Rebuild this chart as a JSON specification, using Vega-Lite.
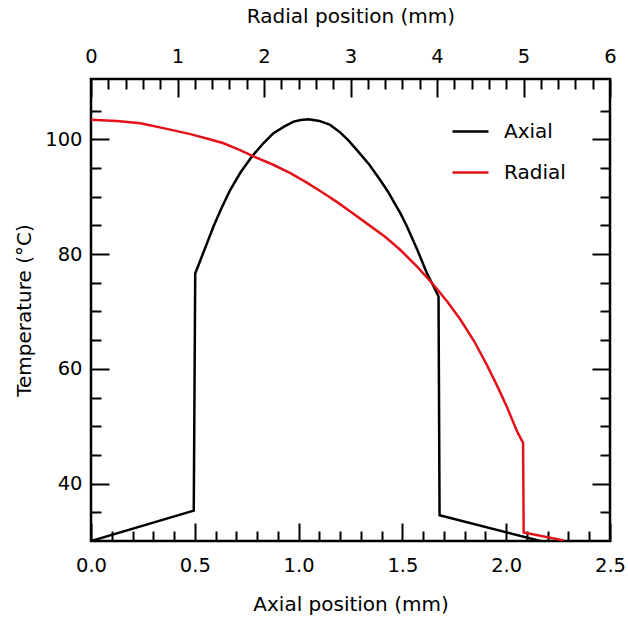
{
  "$schema": "https://vega.github.io/schema/vega-lite/v6.json",
  "width": 519,
  "height": 462,
  "autosize": {"type": "none"},
  "padding": {"left": 91, "top": 79, "right": 18, "bottom": 78},
  "background": "white",
  "config": {
    "view": {"stroke": "black", "strokeWidth": 2.5},
    "font": "DejaVu Sans",
    "axis": {
      "domain": false,
      "grid": false,
      "tickColor": "black",
      "tickWidth": 2,
      "labelFont": "DejaVu Sans",
      "labelFontSize": 19.5,
      "labelColor": "black",
      "labelFlush": false,
      "labelOverlap": false,
      "titleFont": "DejaVu Sans",
      "titleFontSize": 20,
      "titleFontWeight": "normal",
      "titleColor": "black"
    },
    "legend": {
      "labelFont": "DejaVu Sans",
      "labelFontSize": 20,
      "labelColor": "black"
    }
  },
  "datasets": {
    "axial": [
      {"pos": 0, "T": 30, "series": "Axial"},
      {"pos": 0.495, "T": 35.3, "series": "Axial"},
      {"pos": 0.502, "T": 76.6, "series": "Axial"},
      {"pos": 0.59, "T": 84.8, "series": "Axial"},
      {"pos": 0.63, "T": 88.1, "series": "Axial"},
      {"pos": 0.671, "T": 91.2, "series": "Axial"},
      {"pos": 0.72, "T": 94.2, "series": "Axial"},
      {"pos": 0.775, "T": 97.0, "series": "Axial"},
      {"pos": 0.83, "T": 99.3, "series": "Axial"},
      {"pos": 0.879, "T": 101.05, "series": "Axial"},
      {"pos": 0.93, "T": 102.2, "series": "Axial"},
      {"pos": 0.976, "T": 103.07, "series": "Axial"},
      {"pos": 1.01, "T": 103.35, "series": "Axial"},
      {"pos": 1.048, "T": 103.5, "series": "Axial"},
      {"pos": 1.1, "T": 103.2, "series": "Axial"},
      {"pos": 1.152, "T": 102.5, "series": "Axial"},
      {"pos": 1.2, "T": 101.2, "series": "Axial"},
      {"pos": 1.24, "T": 99.8, "series": "Axial"},
      {"pos": 1.281, "T": 98.1, "series": "Axial"},
      {"pos": 1.34, "T": 95.6, "series": "Axial"},
      {"pos": 1.393, "T": 92.9, "series": "Axial"},
      {"pos": 1.43, "T": 90.9, "series": "Axial"},
      {"pos": 1.46, "T": 89.0, "series": "Axial"},
      {"pos": 1.492, "T": 87.0, "series": "Axial"},
      {"pos": 1.522, "T": 84.8, "series": "Axial"},
      {"pos": 1.57, "T": 80.9, "series": "Axial"},
      {"pos": 1.618, "T": 76.65, "series": "Axial"},
      {"pos": 1.65, "T": 74.4, "series": "Axial"},
      {"pos": 1.674, "T": 72.6, "series": "Axial"},
      {"pos": 1.679, "T": 34.5, "series": "Axial"},
      {"pos": 2.164, "T": 30, "series": "Axial"}
    ],
    "radial": [
      {"pos": 0, "T": 103.4, "series": "Radial"},
      {"pos": 0.3, "T": 103.2, "series": "Radial"},
      {"pos": 0.57, "T": 102.8, "series": "Radial"},
      {"pos": 0.85, "T": 101.9, "series": "Radial"},
      {"pos": 1.148, "T": 100.9, "series": "Radial"},
      {"pos": 1.35, "T": 100.1, "series": "Radial"},
      {"pos": 1.533, "T": 99.3, "series": "Radial"},
      {"pos": 1.71, "T": 98.2, "series": "Radial"},
      {"pos": 1.88, "T": 97.0, "series": "Radial"},
      {"pos": 2.1, "T": 95.6, "series": "Radial"},
      {"pos": 2.305, "T": 94.1, "series": "Radial"},
      {"pos": 2.5, "T": 92.4, "series": "Radial"},
      {"pos": 2.69, "T": 90.6, "series": "Radial"},
      {"pos": 2.85, "T": 89.0, "series": "Radial"},
      {"pos": 2.998, "T": 87.4, "series": "Radial"},
      {"pos": 3.191, "T": 85.3, "series": "Radial"},
      {"pos": 3.4, "T": 83.0, "series": "Radial"},
      {"pos": 3.577, "T": 80.7, "series": "Radial"},
      {"pos": 3.77, "T": 77.8, "series": "Radial"},
      {"pos": 3.962, "T": 74.6, "series": "Radial"},
      {"pos": 4.12, "T": 71.7, "series": "Radial"},
      {"pos": 4.27, "T": 68.6, "series": "Radial"},
      {"pos": 4.43, "T": 64.8, "series": "Radial"},
      {"pos": 4.579, "T": 60.6, "series": "Radial"},
      {"pos": 4.7, "T": 56.9, "series": "Radial"},
      {"pos": 4.81, "T": 53.3, "series": "Radial"},
      {"pos": 4.926, "T": 49.1, "series": "Radial"},
      {"pos": 4.995, "T": 47.1, "series": "Radial"},
      {"pos": 5.002, "T": 31.5, "series": "Radial"},
      {"pos": 5.465, "T": 30.1, "series": "Radial"}
    ]
  },
  "layer": [
    {
      "layer": [
        {
          "data": {"name": "axial"},
          "mark": {"type": "line", "strokeWidth": 2.5, "clip": true},
          "encoding": {
            "x": {"field": "pos", "type": "quantitative", "scale": {"domain": [0, 2.5], "nice": false, "zero": false},
                  "axis": {"orient": "bottom", "values": [0, 0.5, 1, 1.5, 2, 2.5], "format": ".1f", "tickSize": -18, "labelPadding": 33, "title": "Axial position (mm)", "titlePadding": 20}},
            "y": {"field": "T", "type": "quantitative", "scale": {"domain": [30, 110.5], "nice": false, "zero": false},
                  "axis": {"orient": "left", "values": [40, 60, 80, 100], "tickSize": -18, "labelPadding": 27, "title": "Temperature (°C)", "titlePadding": 10}},
            "color": {"field": "series", "type": "nominal",
                      "scale": {"domain": ["Axial", "Radial"], "range": ["#000000", "#e3121a"]},
                      "legend": {"orient": "none", "legendX": 360, "legendY": 33, "title": null, "symbolType": "stroke", "symbolSize": 1296, "symbolStrokeWidth": 2.5, "labelOffset": 14, "rowPadding": 11}}
          }
        },
        {
          "data": {"name": "axial"},
          "mark": {"type": "line", "opacity": 0},
          "encoding": {
            "x": {"field": "pos", "type": "quantitative", "scale": {"domain": [0, 2.5], "nice": false, "zero": false},
                  "axis": {"orient": "bottom", "values": [0.1, 0.2, 0.3, 0.4, 0.6, 0.7, 0.8, 0.9, 1.1, 1.2, 1.3, 1.4, 1.6, 1.7, 1.8, 1.9, 2.1, 2.2, 2.3, 2.4], "tickSize": -10, "labels": false, "title": null}},
            "y": {"field": "T", "type": "quantitative", "scale": {"domain": [30, 110.5], "nice": false, "zero": false},
                  "axis": {"orient": "left", "values": [35, 45, 50, 55, 65, 70, 75, 85, 90, 95, 105], "tickSize": -10, "labels": false, "title": null}}
          }
        },
        {
          "data": {"name": "axial"},
          "mark": {"type": "line", "opacity": 0},
          "encoding": {
            "x": {"field": "pos", "type": "quantitative", "scale": {"domain": [0, 2.5], "nice": false, "zero": false}, "axis": null},
            "y": {"field": "T", "type": "quantitative", "scale": {"domain": [30, 110.5], "nice": false, "zero": false},
                  "axis": {"orient": "right", "values": [40, 60, 80, 100], "tickSize": -18, "labels": false, "title": null}}
          }
        },
        {
          "data": {"name": "axial"},
          "mark": {"type": "line", "opacity": 0},
          "encoding": {
            "x": {"field": "pos", "type": "quantitative", "scale": {"domain": [0, 2.5], "nice": false, "zero": false}, "axis": null},
            "y": {"field": "T", "type": "quantitative", "scale": {"domain": [30, 110.5], "nice": false, "zero": false},
                  "axis": {"orient": "right", "values": [35, 45, 50, 55, 65, 70, 75, 85, 90, 95, 105], "tickSize": -10, "labels": false, "title": null}}
          }
        }
      ],
      "resolve": {"axis": {"x": "independent", "y": "independent"}}
    },
    {
      "layer": [
        {
          "data": {"name": "radial"},
          "mark": {"type": "line", "strokeWidth": 2.5, "clip": true},
          "encoding": {
            "x": {"field": "pos", "type": "quantitative", "scale": {"domain": [0, 6], "nice": false, "zero": false},
                  "axis": {"orient": "top", "values": [0, 1, 2, 3, 4, 5, 6], "tickSize": -18, "labelPadding": 31, "title": "Radial position (mm)", "titlePadding": 20}},
            "y": {"field": "T", "type": "quantitative", "scale": {"domain": [30, 110.5], "nice": false, "zero": false}, "axis": null},
            "color": {"field": "series", "type": "nominal",
                      "scale": {"domain": ["Axial", "Radial"], "range": ["#000000", "#e3121a"]}}
          }
        },
        {
          "data": {"name": "radial"},
          "mark": {"type": "line", "opacity": 0},
          "encoding": {
            "x": {"field": "pos", "type": "quantitative", "scale": {"domain": [0, 6], "nice": false, "zero": false},
                  "axis": {"orient": "top", "values": [0.2, 0.4, 0.6, 0.8, 1.2, 1.4, 1.6, 1.8, 2.2, 2.4, 2.6, 2.8, 3.2, 3.4, 3.6, 3.8, 4.2, 4.4, 4.6, 4.8, 5.2, 5.4, 5.6, 5.8], "tickSize": -10, "labels": false, "title": null}},
            "y": {"field": "T", "type": "quantitative", "scale": {"domain": [30, 110.5], "nice": false, "zero": false}, "axis": null}
          }
        }
      ],
      "resolve": {"axis": {"x": "independent"}}
    }
  ],
  "resolve": {"scale": {"x": "independent"}}
}
